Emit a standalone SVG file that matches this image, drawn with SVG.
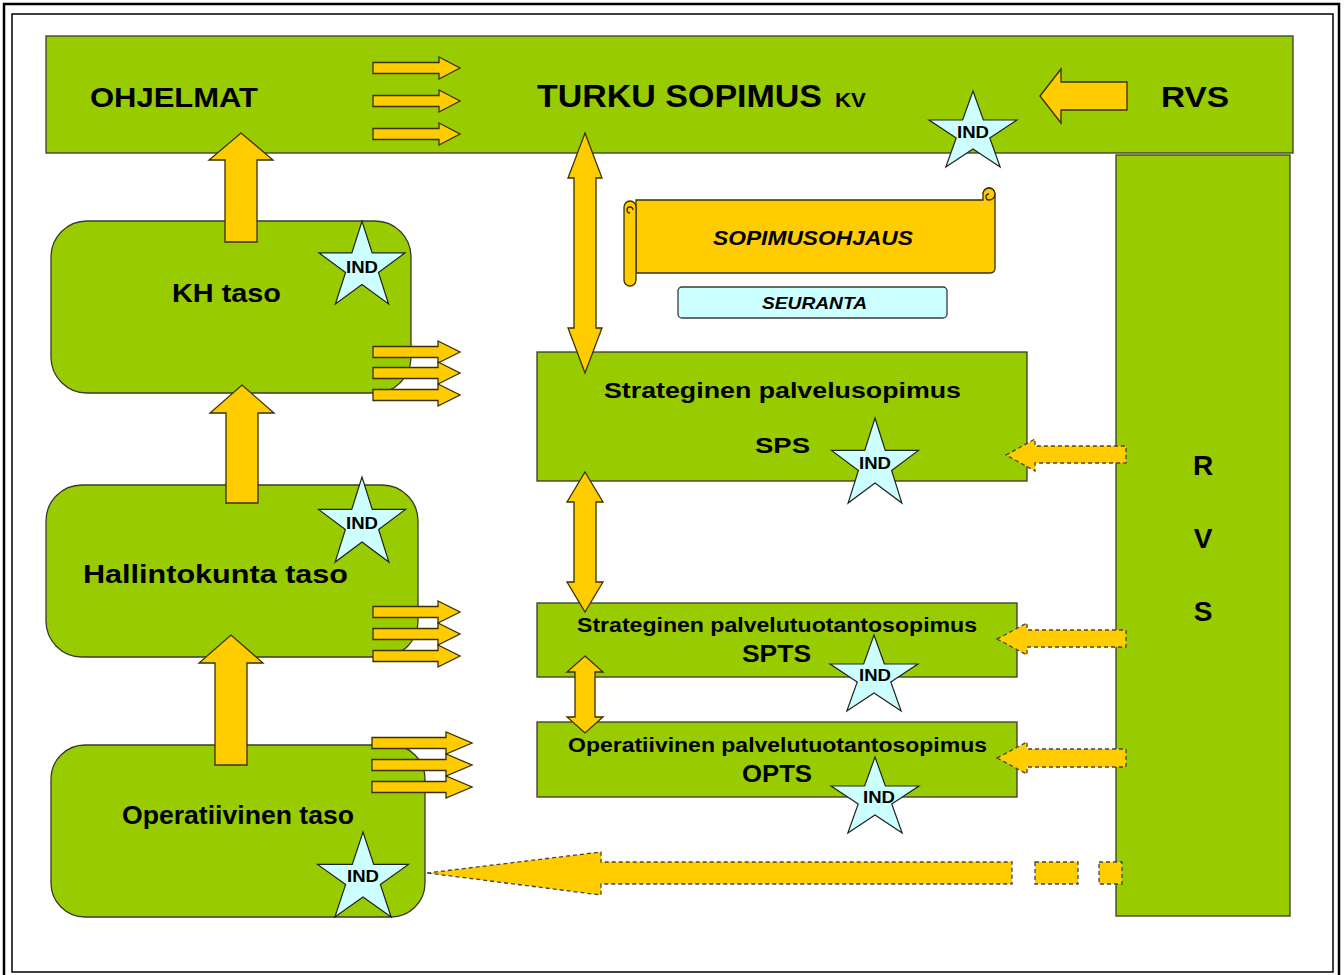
<svg xmlns="http://www.w3.org/2000/svg" xmlns:xlink="http://www.w3.org/1999/xlink" width="1344" height="975" viewBox="0 0 1344 975">
  <style>
    .box { fill: #99CC00; stroke: #3a3a2a; stroke-width: 1.3; }
    .arrow { fill: #FFCC00; stroke: #3a3000; stroke-width: 1.3; stroke-linejoin: miter; }
    .dash { fill: #FFCC00; stroke: #444; stroke-width: 1.3; stroke-dasharray: 4 3; }
    .star { fill: #CCFFFF; stroke: #222; stroke-width: 1.2; vector-effect: non-scaling-stroke; }
    text { font-family: "Liberation Sans", Arial, sans-serif; font-weight: bold; fill: #000; }
    .ind { font-size: 17px; }
  </style>
  <defs>
    <!-- five-pointed star, radius 42, slightly widened -->
    <polygon id="star5" class="star" points="0,-42 10.37,-12.98 43.94,-12.98 16.78,4.96 27.16,33.98 0,16.04 -27.16,33.98 -16.78,4.96 -43.94,-12.98 -10.37,-12.98"/>
  </defs>

  <!-- page frame -->
  <rect x="4" y="4" width="1335" height="985" fill="#fff" stroke="#000" stroke-width="2.5"/>
  <rect x="12" y="14" width="1321" height="958" fill="none" stroke="#000" stroke-width="1.5"/>

  <!-- top band -->
  <g id="top-band">
    <rect class="box" x="46" y="36" width="1247" height="117"/>
    <text x="90" y="107" font-size="27" textLength="168" lengthAdjust="spacingAndGlyphs">OHJELMAT</text>
    <text x="537" y="107" font-size="31" textLength="285" lengthAdjust="spacingAndGlyphs">TURKU SOPIMUS</text>
    <text x="835" y="107" font-size="20" textLength="31" lengthAdjust="spacingAndGlyphs">KV</text>
    <text x="1161" y="107" font-size="30" textLength="68" lengthAdjust="spacingAndGlyphs">RVS</text>
  </g>

  <!-- RVS column -->
  <g id="rvs-column">
    <rect class="box" x="1116" y="155" width="174" height="761"/>
    <text x="1203" y="475" font-size="28" text-anchor="middle">R</text>
    <text x="1203" y="548" font-size="28" text-anchor="middle">V</text>
    <text x="1203" y="621" font-size="28" text-anchor="middle">S</text>
  </g>

  <!-- levels on the left -->
  <g id="kh-taso">
    <rect class="box" x="51" y="221" width="360" height="172" rx="36" ry="36"/>
    <text x="172" y="302" font-size="25" textLength="109" lengthAdjust="spacingAndGlyphs">KH taso</text>
  </g>
  <g id="hallintokunta-taso">
    <rect class="box" x="46" y="485" width="372" height="172" rx="36" ry="36"/>
    <text x="83" y="583" font-size="26" textLength="265" lengthAdjust="spacingAndGlyphs">Hallintokunta taso</text>
  </g>
  <g id="operatiivinen-taso">
    <rect class="box" x="51" y="745" width="374" height="172" rx="34" ry="34"/>
    <text x="122" y="824" font-size="25" textLength="232" lengthAdjust="spacingAndGlyphs">Operatiivinen taso</text>
  </g>

  <!-- contract scroll and follow-up label -->
  <g id="sopimusohjaus">
    <path class="arrow" d="M636,200 L983,200 L983,194 A6,6 0 0 1 995,194 L995,268 Q995,273 990,273 L636,273 Z"/>
    <path class="arrow" fill="#E6B800" d="M983,194 A6,6 0 0 1 995,194 A6,6 0 0 1 989,200 A3,3 0 0 1 989,194"/>
    <path class="arrow" d="M624,207 A6,6 0 0 1 636,207 L636,280 A6,6 0 0 1 624,280 Z"/>
    <path class="arrow" fill="#E6B800" d="M630,213 A3,3 0 0 1 630,207 A3,3 0 0 1 633,210"/>
    <text x="713" y="245" font-size="20" font-style="italic" textLength="200" lengthAdjust="spacingAndGlyphs">SOPIMUSOHJAUS</text>
  </g>
  <g id="seuranta">
    <rect x="678" y="287" width="269" height="31" rx="4" ry="4" fill="#CCFFFF" stroke="#3a3a3a" stroke-width="1.3"/>
    <text x="762" y="309" font-size="17" font-style="italic" textLength="105" lengthAdjust="spacingAndGlyphs">SEURANTA</text>
  </g>

  <!-- contract boxes -->
  <g id="sps">
    <rect class="box" x="537" y="352" width="490" height="129"/>
    <text x="604" y="398" font-size="22" textLength="357" lengthAdjust="spacingAndGlyphs">Strateginen palvelusopimus</text>
    <text x="755" y="453" font-size="22" textLength="55" lengthAdjust="spacingAndGlyphs">SPS</text>
  </g>
  <g id="spts">
    <rect class="box" x="537" y="603" width="480" height="74"/>
    <text x="577" y="632" font-size="20" textLength="400" lengthAdjust="spacingAndGlyphs">Strateginen palvelutuotantosopimus</text>
    <text x="742" y="662" font-size="24" textLength="69" lengthAdjust="spacingAndGlyphs">SPTS</text>
  </g>
  <g id="opts">
    <rect class="box" x="537" y="722" width="480" height="75"/>
    <text x="568" y="752" font-size="20" textLength="419" lengthAdjust="spacingAndGlyphs">Operatiivinen palvelutuotantosopimus</text>
    <text x="742" y="782" font-size="24" textLength="70" lengthAdjust="spacingAndGlyphs">OPTS</text>
  </g>

  <!-- connectors -->
  <g id="connectors">
    <!-- upward flow between levels -->
    <path class="arrow" d="M225,242 L225,160 L209,160 L241,133 L273,160 L257,160 L257,242 Z"/>
    <path class="arrow" d="M226,503 L226,413 L210,413 L242,385 L274,413 L258,413 L258,503 Z"/>
    <path class="arrow" d="M215,765 L215,663 L199,663 L231,635 L263,663 L247,663 L247,765 Z"/>

    <!-- triple arrows in the top band -->
    <path class="arrow" d="M373,62.5 L439,62.5 L439,57 L460,68 L439,79 L439,73.5 L373,73.5 Z"/>
    <path class="arrow" d="M373,95.5 L439,95.5 L439,90 L460,101 L439,112 L439,106.5 L373,106.5 Z"/>
    <path class="arrow" d="M373,128.5 L439,128.5 L439,123 L460,134 L439,145 L439,139.5 L373,139.5 Z"/>

    <!-- triple arrows from KH taso -->
    <path class="arrow" d="M373,346.5 L438,346.5 L438,341 L460,352 L438,363 L438,357.5 L373,357.5 Z"/>
    <path class="arrow" d="M373,367.5 L438,367.5 L438,362 L460,373 L438,384 L438,378.5 L373,378.5 Z"/>
    <path class="arrow" d="M373,389.5 L438,389.5 L438,384 L460,395 L438,406 L438,400.5 L373,400.5 Z"/>

    <!-- triple arrows from Hallintokunta taso -->
    <path class="arrow" d="M373,606.5 L438,606.5 L438,601 L460,612 L438,623 L438,617.5 L373,617.5 Z"/>
    <path class="arrow" d="M373,628.5 L438,628.5 L438,623 L460,634 L438,645 L438,639.5 L373,639.5 Z"/>
    <path class="arrow" d="M373,650.5 L438,650.5 L438,645 L460,656 L438,667 L438,661.5 L373,661.5 Z"/>

    <!-- triple arrows from Operatiivinen taso -->
    <path class="arrow" d="M372,737.5 L446,737.5 L446,732 L472,743 L446,754 L446,748.5 L372,748.5 Z"/>
    <path class="arrow" d="M372,759.5 L446,759.5 L446,754 L472,765 L446,776 L446,770.5 L372,770.5 Z"/>
    <path class="arrow" d="M372,781.5 L446,781.5 L446,776 L472,787 L446,798 L446,792.5 L372,792.5 Z"/>

    <!-- RVS into the top band -->
    <path class="arrow" d="M1040,96 L1061,69 L1061,82 L1127,82 L1127,110 L1061,110 L1061,123 Z"/>

    <!-- two-way links between contract levels -->
    <path class="arrow" d="M585,133 L602,178 L596,178 L596,328 L602,328 L585,373 L568,328 L574,328 L574,178 L568,178 Z"/>
    <path class="arrow" d="M585,472 L603,502 L596,502 L596,582 L603,582 L585,612 L567,582 L574,582 L574,502 L567,502 Z"/>
    <path class="arrow" d="M585,656 L603,672 L595,672 L595,717 L603,717 L585,733 L567,717 L575,717 L575,672 L567,672 Z"/>

    <!-- dashed arrows out of the RVS column -->
    <path class="dash" d="M1006,455 L1035,439 L1035,446 L1126,446 L1126,463 L1035,463 L1035,471 Z"/>
    <path class="dash" d="M997,639 L1027,623 L1027,630 L1126,630 L1126,647 L1027,647 L1027,655 Z"/>
    <path class="dash" d="M997,758 L1027,742 L1027,749 L1126,749 L1126,767 L1027,767 L1027,774 Z"/>
    <path class="dash" d="M427,873 L601,852 L601,862 L1012,862 L1012,884 L601,884 L601,895 Z"/>
    <rect class="dash" x="1035" y="862" width="43" height="22"/>
    <rect class="dash" x="1099" y="862" width="23" height="22"/>
  </g>

  <!-- indicator stars -->
  <g id="ind-top">
    <use xlink:href="#star5" transform="translate(973,133)"/>
    <text class="ind" x="957" y="138" textLength="32" lengthAdjust="spacingAndGlyphs">IND</text>
  </g>
  <g id="ind-kh">
    <use xlink:href="#star5" transform="translate(362,267) scale(0.98,1.09)"/>
    <text class="ind" x="346" y="273" textLength="32" lengthAdjust="spacingAndGlyphs">IND</text>
  </g>
  <g id="ind-hallintokunta">
    <use xlink:href="#star5" transform="translate(362,524) scale(0.99,1.12)"/>
    <text class="ind" x="346" y="529" textLength="32" lengthAdjust="spacingAndGlyphs">IND</text>
  </g>
  <g id="ind-sps">
    <use xlink:href="#star5" transform="translate(875,465) scale(0.99,1.12)"/>
    <text class="ind" x="859" y="469" textLength="32" lengthAdjust="spacingAndGlyphs">IND</text>
  </g>
  <g id="ind-spts">
    <use xlink:href="#star5" transform="translate(874,677)"/>
    <text class="ind" x="859" y="681" textLength="32" lengthAdjust="spacingAndGlyphs">IND</text>
  </g>
  <g id="ind-opts">
    <use xlink:href="#star5" transform="translate(875,799)"/>
    <text class="ind" x="863" y="803" textLength="32" lengthAdjust="spacingAndGlyphs">IND</text>
  </g>
  <g id="ind-operatiivinen">
    <use xlink:href="#star5" transform="translate(363,879) scale(1.035,1.12)"/>
    <text class="ind" x="347" y="882" textLength="32" lengthAdjust="spacingAndGlyphs">IND</text>
  </g>
</svg>
